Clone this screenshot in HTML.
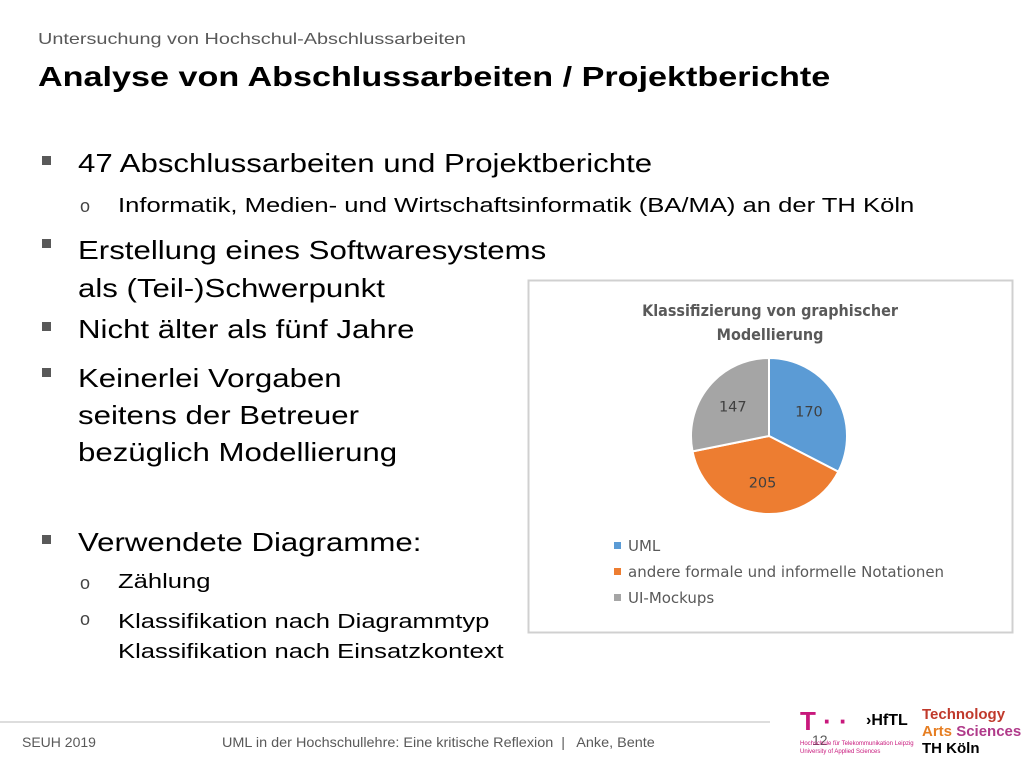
<!DOCTYPE html>
<html><head><meta charset="utf-8"><style>
body{margin:0;width:1024px;height:768px;background:#fff;position:relative;overflow:hidden;font-family:"Liberation Sans",sans-serif;}
.a{position:absolute;white-space:nowrap;transform-origin:0 0;}
.b{font-size:26px;color:#000;transform:scaleX(1.2);}
.s{font-size:20px;color:#000;transform:scaleX(1.28);}
.sq{position:absolute;width:9px;height:9px;background:#595959;}
.o{position:absolute;font-size:18px;color:#444;}
</style></head><body>
<div class="a" style="left:38px;top:31px;font-size:16px;color:#595959;transform:scaleX(1.24);">Untersuchung von Hochschul-Abschlussarbeiten</div>
<div class="a" style="left:38px;top:61px;font-size:28px;font-weight:bold;color:#000;transform:scaleX(1.22);">Analyse von Abschlussarbeiten / Projektberichte</div>

<div class="sq" style="left:42px;top:156px"></div>
<div class="a b" style="left:78px;top:148px">47 Abschlussarbeiten und Projektberichte</div>
<div class="o" style="left:80px;top:196px">o</div>
<div class="a s" style="left:118px;top:195px">Informatik, Medien- und Wirtschaftsinformatik (BA/MA) an der TH Köln</div>
<div class="sq" style="left:42px;top:239px"></div>
<div class="a b" style="left:78px;top:231px;line-height:38px">Erstellung eines Softwaresystems<br>als (Teil-)Schwerpunkt</div>
<div class="sq" style="left:42px;top:322px"></div>
<div class="a b" style="left:78px;top:314px">Nicht älter als fünf Jahre</div>
<div class="sq" style="left:42px;top:368px"></div>
<div class="a b" style="left:78px;top:360px;line-height:37px">Keinerlei Vorgaben<br>seitens der Betreuer<br>bezüglich Modellierung</div>
<div class="sq" style="left:42px;top:535px"></div>
<div class="a b" style="left:78px;top:527px">Verwendete Diagramme:</div>
<div class="o" style="left:80px;top:573px">o</div>
<div class="a s" style="left:118px;top:571px">Zählung</div>
<div class="o" style="left:80px;top:609px">o</div>
<div class="a s" style="left:118px;top:607px;line-height:30px">Klassifikation nach Diagrammtyp<br>Klassifikation nach Einsatzkontext</div>

<svg class="a" style="left:0;top:0" width="1024" height="768">
<rect x="528.5" y="280.5" width="484" height="352" fill="#fff" stroke="#d0d0d0" stroke-width="2"/>
<text x="770" y="316" text-anchor="middle" font-size="16" font-weight="bold" fill="#595959" font-family="DejaVu Sans Condensed, Liberation Sans Narrow, sans-serif">Klassifizierung von graphischer</text>
<text x="770" y="340" text-anchor="middle" font-size="16" font-weight="bold" fill="#595959" font-family="DejaVu Sans Condensed, Liberation Sans Narrow, sans-serif">Modellierung</text>
<g id="pie"></g><g id="legend"></g>
<line x1="0" y1="722" x2="770" y2="722" stroke="#bbb" stroke-width="1"/>
</svg>

<div class="a" style="left:22px;top:734px;font-size:14px;color:#595959;">SEUH 2019</div>
<div class="a" style="left:222px;top:734px;font-size:14px;color:#595959;transform:scaleX(1.03);">UML in der Hochschullehre: Eine kritische Reflexion &nbsp;| &nbsp; Anke, Bente</div>
<div class="a" style="left:812px;top:732px;font-size:14px;color:#595959;">12</div>
<div class="a" style="left:800px;top:706px;font-size:26px;font-weight:bold;color:#c8187c;">T · ·</div>
<div class="a" style="left:866px;top:712px;font-size:16px;font-weight:bold;color:#000;">›HfTL</div>
<div class="a" style="left:800px;top:740px;font-size:6px;color:#c8187c;line-height:8px;">Hochschule für Telekommunikation Leipzig<br>University of Applied Sciences</div>
<div class="a" style="left:922px;top:706px;font-size:15px;font-weight:bold;line-height:17px;"><span style="color:#c0392b">Technology</span><br><span style="color:#e67e22">Arts </span><span style="color:#b03a8a">Sciences</span><br><span style="color:#000">TH Köln</span></div>

<script>
const categories=["UML","andere formale und informelle Notationen","UI-Mockups"];
const values=[170,205,147];
const colors=["#5b9bd5","#ed7d31","#a5a5a5"];
const NS="http://www.w3.org/2000/svg";
const cx=769,cy=436,r=78;
const total=values.reduce((a,b)=>a+b,0);
const pie=document.getElementById('pie');
let ang=-Math.PI/2;
function pt(a,rr){return [cx+rr*Math.cos(a),cy+rr*Math.sin(a)];}
values.forEach((v,i)=>{
  const a2=ang+v/total*2*Math.PI;
  const [x1,y1]=pt(ang,r),[x2,y2]=pt(a2,r);
  const p=document.createElementNS(NS,'path');
  p.setAttribute('d',`M${cx},${cy}L${x1},${y1}A${r},${r} 0 ${a2-ang>Math.PI?1:0} 1 ${x2},${y2}Z`);
  p.setAttribute('fill',colors[i]);p.setAttribute('stroke','#fff');p.setAttribute('stroke-width','2');
  
  
  pie.appendChild(p);
  const m=(ang+a2)/2,[lx,ly]=pt(m,r*0.6);
  const t=document.createElementNS(NS,'text');
  t.setAttribute('x',lx);t.setAttribute('y',ly+5);t.setAttribute('text-anchor','middle');
  t.setAttribute('font-size','14.5');t.setAttribute('fill','#404040');t.setAttribute('font-family','DejaVu Sans, sans-serif');
  t.textContent=v;
  
  
  pie.appendChild(t);
  ang=a2;
});
const lg=document.getElementById('legend');
categories.forEach((c,i)=>{
  const y=546+i*26;
  const s=document.createElementNS(NS,'rect');
  s.setAttribute('x',614);s.setAttribute('y',y-4);s.setAttribute('width',7);s.setAttribute('height',7);s.setAttribute('fill',colors[i]);
  
  
  lg.appendChild(s);
  const t=document.createElementNS(NS,'text');
  t.setAttribute('x',628);t.setAttribute('y',y+5);t.setAttribute('font-size','15');t.setAttribute('fill','#595959');t.setAttribute('font-family','DejaVu Sans, sans-serif');
  t.textContent=c;
  
  
  lg.appendChild(t);
});
</script>
</body></html>
